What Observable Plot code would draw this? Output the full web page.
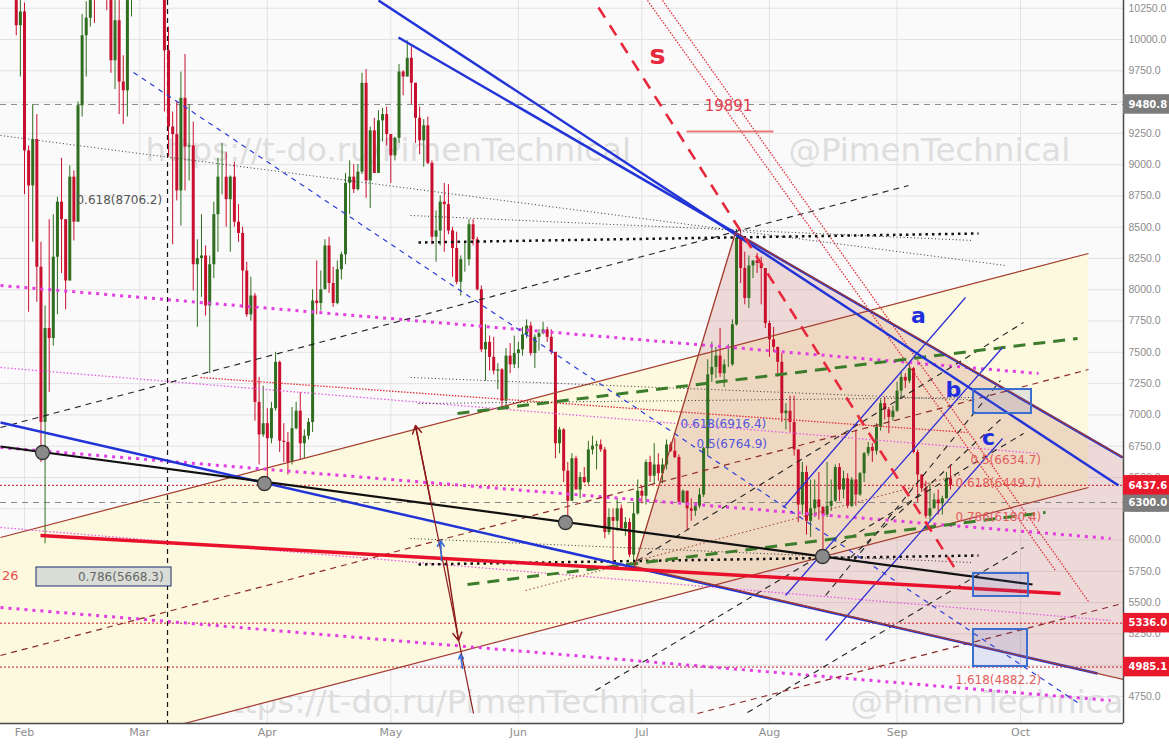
<!DOCTYPE html>
<html>
<head>
<meta charset="utf-8">
<script src="https://cdn.jsdelivr.net/npm/d3@7"></script>
<script src="https://cdn.jsdelivr.net/npm/@observablehq/plot@0.6"></script>
<style>
html,body{margin:0;padding:0;background:#ffffff;}
#chart{width:1169px;height:745px;overflow:hidden;}
</style>
</head>
<body>
<div id="chart"></div>
<script>
// ================= DATA =================
// Daily BTC/USD candles, 2018-01-26 .. 2018-09-14 (day-of-year 25 .. 256, Jan 1 = 0)
const firstCandleDay = 25;
const firstOpen = 11256;
const closes = [
11171,11440,11780,11270,10110,10220,
9110,8830,9200,8180,6940,7690,7610,8260,8700,8560,8070,8900,8540,9470,10030,10170,11060,10380,11150,11230,10470,9830,10150,9660,9590,10320,10570,10330,
10930,11030,11460,11510,11440,10720,9910,9300,9240,8790,9530,9140,9150,8200,8250,8270,7870,8200,8600,8900,8900,8720,8900,8540,8450,8150,7800,7950,7100,6840,6930,
6810,7050,7420,6790,6780,6620,6890,7030,6770,6830,6940,7910,7890,8000,8350,8050,7890,8160,8280,8850,8900,8800,8940,9650,8870,9270,8930,9350,9400,9240,
9070,9210,9740,9700,9850,9650,9370,9190,9310,9010,8420,8470,8700,8680,8470,8330,8060,8240,8240,8520,8400,8000,7520,7580,7460,7350,7360,7110,7470,7400,7490,
7520,7640,7710,7490,7620,7650,7680,7620,7500,6770,6880,6550,6310,6650,6400,6500,6460,6720,6750,6760,6720,6060,6180,6150,6250,6090,6140,5880,6210,6390,
6350,6620,6510,6600,6530,6600,6760,6710,6660,6300,6390,6250,6230,6270,6360,6730,7320,7380,7470,7330,7400,7400,7720,8410,8170,7930,8190,8230,8210,8170,7730,
7600,7540,7420,7010,7030,6940,6720,6280,6540,6150,6250,6320,6260,6200,6270,6310,6580,6400,6490,6270,6480,6360,6530,6690,6740,6710,6900,7090,7040,6980,7030,
7190,7300,7270,7370,6700,6520,6410,6190,6250,6320,6290,6330,6490,6437.6
];
const highs = [
11643,11620,12030,11870,11300,10380,
10290,9150,9480,9400,8380,7870,8560,8600,8740,9050,8560,8990,8950,9500,10200,10300,11100,11240,11270,11790,11300,10900,10430,10500,9870,10460,10880,11070,
11070,11190,11530,11510,11700,11440,10900,10100,9420,9500,9740,9880,9480,9340,8400,8600,8350,8270,8700,9050,9170,9100,8910,9020,8680,8500,8220,8100,7970,7300,7230,
7050,7100,7500,7430,6930,6860,7060,7100,7180,6880,6970,8000,8230,8150,8400,8420,8180,8230,8300,8930,9030,9000,9000,9730,9760,9300,9370,9430,9450,9460,
9240,9220,9800,9750,9990,9940,9650,9460,9360,9380,9030,8630,8750,8850,8840,8500,8460,8270,8380,8560,8560,8420,8030,7720,7630,7620,7410,7370,7530,7570,7630,
7580,7700,7760,7740,7640,7680,7740,7700,7680,7500,6900,6890,6620,6690,6670,6540,6580,6790,6830,6790,6800,6740,6250,6250,6330,6280,6180,6170,6300,6480,
6430,6640,6670,6770,6690,6650,6800,6780,6810,6680,6400,6390,6330,6290,6410,6740,7440,7580,7540,7690,7440,7560,7760,8480,8480,8300,8270,8230,8290,8260,8170,
7750,7700,7540,7490,7090,7150,7150,6720,6620,6590,6480,6480,6540,6270,6620,6480,6600,6610,6550,6530,6500,6880,6540,6700,6780,6770,6930,7120,7140,7060,7070,
7260,7340,7330,7410,7380,6720,6520,6470,6450,6370,6400,6350,6540,6600
];
const lows = [
10311,10930,11440,11170,10030,9700,
8760,7820,8380,7900,6620,5970,7180,7550,7800,8130,7840,8070,8390,8540,9380,9700,10100,10130,10380,11100,10230,9730,9600,9400,9320,9380,10180,10330,
10310,10800,11000,11080,11400,10590,9420,9060,8360,8710,8510,8790,8870,7990,7700,7940,7790,7330,8090,8300,8760,8500,8300,8500,8380,7850,7780,7750,6950,6600,6820,
6430,6770,7030,6700,6620,6520,6600,6880,6640,6650,6800,6860,7800,7830,8000,7970,7860,7880,8080,8200,8600,8770,8790,8920,8730,8650,8930,8930,9180,9150,
8850,9030,9170,9550,9700,9480,9170,9080,8980,9000,8360,8220,8350,8300,8440,8100,8040,7950,8140,8190,8350,7990,7500,7270,7350,7320,7200,7060,7060,7330,7370,
7370,7470,7610,7470,7370,7510,7640,7580,7480,6650,6690,6460,6120,6310,6400,6330,6450,6440,6680,6560,6700,6010,6040,5780,6070,6070,6030,5860,5790,6200,
6290,6280,6460,6450,6470,6450,6560,6700,6650,6290,6300,6080,6150,6190,6250,6340,6670,7260,7290,7300,7220,7380,7390,7710,8050,7880,7850,8090,8130,7880,7690,
7460,7500,7300,6940,6880,6860,6670,6140,6200,6040,6020,6180,6160,5880,6180,6230,6300,6310,6330,6250,6260,6270,6350,6460,6670,6620,6680,6870,6960,6850,6950,
7020,7130,7210,7250,6690,6300,6380,6170,6150,6250,6200,6200,6330,6400
];

// axis values (9500 and 5000 sit under the price tags)
const yTicks = [4750,5250,5500,5750,6000,6250,6500,6750,7000,7250,7500,7750,8000,8250,8500,8750,9000,9250,9750,10000,10250];
const monthStarts = ["2018-02-01","2018-03-01","2018-04-01","2018-05-01","2018-06-01","2018-07-01","2018-08-01","2018-09-01","2018-10-01"];
const viewDays = [25.17, 298.02];
const viewPrices = [4534.2, 10311.6];

// horizontal price levels and their axis tags
const grayLevels = [9480.8, 6300.0];
const redLevels = [6437.6, 5336.0, 4985.1];
const verticalMarkDays = [65.75];

// drawings: [day1, price1, day2, price2]  (day = day-of-year 2018)
const channelDays = [25.17, 289.52];
const channelLower = [4150.6, 6420.0];
const channelUpper = [6020.5, 8289.9];
const triangle = [[179.2, 5788.7], [203.75, 8457.7], [298.02, 6659.8], [298.02, 4885.8]];
const triangleEdges = [[179.2, 5788.7, 203.75, 8457.7], [203.75, 8457.7, 298.02, 6659.8], [179.2, 5788.7, 298.02, 4885.8]];
const channelLines = [[25.17, 6020.5, 289.52, 8289.9], [25.17, 4150.6, 289.52, 6420.0]];
const blueThick = [[117.01, 10311.6, 296.81, 6436.0], [121.87, 10016.0, 297.78, 6659.8], [25.17, 6939.4, 291.71, 4933.7]];
const blackThick = [[25.17, 6747.7, 275.92, 5644.9]];
const redThick = [[34.89, 6036.5, 282.72, 5573.0]];
const redDashed = [[170.47, 10255.7, 257.7, 5740.8]];
const redDotted = [[182.37, 10311.6, 281.5, 5756.8], [186.02, 10311.6, 289.52, 5509.0], [73.76, 7299.1, 260.12, 6859.5]];
const redShort = [[191.85, 9264.8, 212.99, 9264.8]];
const blackDashed = [[25.17, 6899.5, 245.79, 8833.3], [206.67, 4622.1, 273.73, 5940.6], [169.74, 4797.9, 273.73, 6851.5],
  [179.94, 5836.7, 273.73, 7738.5], [225.63, 5557.0, 268.14, 7275.1], [231.7, 5860.7, 268.14, 6963.4]];
const blackDottedThin = [[25.17, 9232.9, 269.36, 8194.0], [124.79, 8593.6, 261.58, 8393.8], [124.79, 7299.1, 261.34, 7119.2],
  [126.73, 7091.2, 261.34, 7139.2], [124.79, 6012.5, 261.34, 5820.7]];
const blackDottedThick = [[126.73, 8377.8, 262.79, 8449.7], [126.73, 5804.8, 262.79, 5876.6]];
const greenDashed = [[138.64, 5644.9, 279.08, 6220.2], [136.21, 7011.3, 286.85, 7610.7]];
const magentaThick = [[25.17, 8034.2, 277.38, 7331.0], [25.17, 6739.7, 294.87, 6012.5], [25.17, 5461.1, 294.87, 4717.9]];
const magentaThin = [[25.17, 7378.9, 277.38, 6691.7], [25.17, 6100.4, 294.87, 5357.2]];
const brownDashed = [[25.17, 5077.6, 289.52, 7363.0], [194.52, 4614.1, 297.78, 5493.0]];
const brownDotted = [[152.73, 5597.0, 258.42, 6523.9]];
const blueDashed = [[57.48, 9736.3, 286.85, 4702.0]];
const blueThin = [[215.42, 6260.2, 259.64, 7938.3], [215.9, 5557.0, 268.63, 7538.8], [225.63, 5197.4, 268.63, 6811.6]];
const brownArrowLine = [[126.0, 6915.4, 140.1, 4614.1]];
const brownArrows = [[129.65, 6316.1, 126.0, 6915.4], [133.5, 5836.7, 136.45, 5197.4]];
const blueArrows = [[132.32, 5836.7, 132.08, 5996.5], [137.42, 4973.7, 136.94, 5085.5]];
const pivots = [[35.37, 6699.7], [89.31, 6452.0], [162.45, 6140.3], [224.9, 5868.7]];
const blueBoxes = [[261.58, 7203.2, 275.67, 7011.3], [261.58, 5732.8, 274.95, 5549.0], [261.58, 5285.3, 274.7, 4989.6]];
const fibBox = [[33.92, 5780.8, 66.72, 5629.0]];

// labels: [day, price, text]
const fibBoxLabel = [[64.8, 5700.8, "0.786(5668.3)"]];
const grayFibLabel = [[43.63, 8713.4, "0.618(8706.2)"]];
const blueFibLabels = [[190.4, 6923.5, "0.618(6916.4)"], [194.3, 6763.6, "0.5(6764.9)"]];
const redFibLabels = [[260.85, 6635.8, "0.5(6634.7)"], [257.2, 6452.0, "0.618(6449.7)"], [257.2, 6180.3, "0.786(6180.4)"], [257.2, 4877.7, "1.618(4882.2)"]];
const waveLabels = [[248.2, 7794.5, "a"], [256.7, 7203.0, "b"], [265.2, 6819.6, "c"]];
const sLabel = [[184.8, 9872.0, "s"]];
const numLabel = [[202.05, 9464.6, "19891"]];
const edgeLabel = [[29.54, 5716.8, "26"]];
const watermarks = [[60.4, 9113, "https://t-do.ru/PimenTechnical"], [216.6, 9113, "@PimenTechnical"],
  [76.2, 4702, "https://t-do.ru/PimenTechnical"], [231.7, 4702, "@PimenTechnical"]];

// ================= BUILD =================
const DAY0 = Date.UTC(2018, 0, 1);
const day = t => new Date(DAY0 + t * 86400000);
const candles = closes.map((c, i) => ({
  date: day(firstCandleDay + i),
  open: i === 0 ? firstOpen : closes[i - 1],
  close: c, high: highs[i], low: lows[i]
}));
const candleColor = d => d.close >= d.open ? "#2f6e1f" : "#c8102e";

const seg = arr => arr.map(s => ({x1: day(s[0]), y1: s[1], x2: day(s[2]), y2: s[3]}));
const lbl = arr => arr.map(s => ({x: day(s[0]), y: s[1], text: s[2]}));
const links = (arr, o) => Plot.link(seg(arr), {x1: "x1", y1: "y1", x2: "x2", y2: "y2", clip: true, ...o});
const texts = (arr, o) => Plot.text(lbl(arr), {x: "x", y: "y", text: "text", fontFamily: "DejaVu Sans", ...o});
const rects = (arr, o) => Plot.rect(seg(arr), {x1: "x1", x2: "x2", y1: "y1", y2: "y2", ...o});

function polygonMark(points, attrs) {
  return (index, scales) => {
    const el = d3.create("svg:polygon")
      .attr("points", points.map(([t, p]) => `${scales.x(day(t))},${scales.y(p)}`).join(" "));
    for (const [k, v] of Object.entries(attrs)) el.attr(k, v);
    return el.node();
  };
}

const channelData = channelDays.map((t, i) => ({x: day(t), lo: channelLower[i], hi: channelUpper[i]}));
const tagRows = vals => vals.map(v => ({x1: day(viewDays[1]), x2: day(309.5), lo: v - 78, hi: v + 78, v}));
const tagRects = (vals, fill) => Plot.rect(tagRows(vals), {x1: "x1", x2: "x2", y1: "lo", y2: "hi", fill, clip: false});
const tagTexts = vals => Plot.text(tagRows(vals), {x: "x1", y: "v", text: d => d.v.toFixed(1), dx: 5, textAnchor: "start",
  fill: "#ffffff", fontWeight: "bold", fontSize: 10, fontFamily: "DejaVu Sans", clip: false});

const chart = Plot.plot({
  width: 1169, height: 745,
  marginLeft: 0, marginRight: 46, marginTop: 0, marginBottom: 22,
  style: {background: "#ffffff", fontFamily: "DejaVu Sans", overflow: "visible"},
  x: {type: "utc", domain: viewDays.map(day)},
  y: {domain: viewPrices},
  marks: [
    Plot.frame({fill: "#fafafa", stroke: null}),
    Plot.gridY([...yTicks, 9500, 5000], {stroke: "#e2e2e2", strokeOpacity: 1}),
    Plot.gridX(monthStarts.map(s => new Date(s)), {stroke: "#e2e2e2", strokeOpacity: 1}),
    texts(watermarks, {fill: "#dedede", fontSize: 32.5, textAnchor: "start", clip: true}),
    // rising channel fill
    Plot.areaY(channelData, {x: "x", y1: "lo", y2: "hi", fill: "#fcf9de", curve: "linear", clip: true}),
    // triangle fill
    polygonMark(triangle, {fill: "rgb(190,100,90)", "fill-opacity": 0.22}),
    // vertical marker and horizontal levels
    Plot.ruleX(verticalMarkDays.map(day), {stroke: "#111", strokeDasharray: "5,4", strokeWidth: 1.2}),
    Plot.ruleY(grayLevels, {stroke: "#888", strokeDasharray: "6,5", strokeWidth: 1}),
    Plot.ruleY(redLevels, {stroke: "#cc1020", strokeDasharray: "2,2", strokeWidth: 1}),
    // candles
    Plot.ruleX(candles, {x: "date", y1: "low", y2: "high", stroke: candleColor, strokeWidth: 1, clip: true}),
    Plot.ruleX(candles, {x: "date", y1: "open", y2: "close", stroke: candleColor, strokeWidth: 3, clip: true}),
    // drawings
    links(channelLines, {stroke: "#a33a2e", strokeWidth: 1.2}),
    links(magentaThin, {stroke: "#e45be4", strokeWidth: 1.3, strokeDasharray: "1.5,2"}),
    links(magentaThick, {stroke: "#e33ee3", strokeWidth: 3, strokeDasharray: "3,5"}),
    links(redDotted, {stroke: "#e0303a", strokeWidth: 1.3, strokeDasharray: "1.5,1.5"}),
    links(brownDashed, {stroke: "#8e2a2a", strokeWidth: 1.2, strokeDasharray: "6,5"}),
    links(brownDotted, {stroke: "#9a3a2a", strokeWidth: 1, strokeDasharray: "1.5,2.5"}),
    links(blackDashed, {stroke: "#222", strokeWidth: 1.1, strokeDasharray: "6,5"}),
    links(blackDottedThin, {stroke: "#333", strokeWidth: 1, strokeDasharray: "1,2.5"}),
    links(blackDottedThick, {stroke: "#111", strokeWidth: 2.5, strokeDasharray: "2.5,4"}),
    links(greenDashed, {stroke: "#3b7d2b", strokeWidth: 3, strokeDasharray: "12,8"}),
    links(blueDashed, {stroke: "#2b3bd8", strokeWidth: 1.2, strokeDasharray: "5,5"}),
    links(blueThin, {stroke: "#2a2ad6", strokeWidth: 1.2}),
    links(blueThick, {stroke: "#2234d6", strokeWidth: 2.5}),
    links(triangleEdges, {stroke: "#a33a2e", strokeWidth: 1.3}),
    links(blackThick, {stroke: "#111", strokeWidth: 2.2}),
    links(redThick, {stroke: "#e8102a", strokeWidth: 3.5}),
    links(redDashed, {stroke: "#e8283c", strokeWidth: 2.6, strokeDasharray: "12,9"}),
    links(redShort, {stroke: "#e87878", strokeWidth: 2}),
    links(brownArrowLine, {stroke: "#8b1a1a", strokeWidth: 1.2}),
    Plot.arrow(seg(brownArrows), {x1: "x1", y1: "y1", x2: "x2", y2: "y2", stroke: "#8b1a1a", strokeWidth: 1.5, headLength: 9, clip: true}),
    Plot.arrow(seg(blueArrows), {x1: "x1", y1: "y1", x2: "x2", y2: "y2", stroke: "#3a6ad8", strokeWidth: 1.6, headLength: 8, clip: true}),
    Plot.dot(pivots.map(p => ({x: day(p[0]), y: p[1]})), {x: "x", y: "y", r: 7, fill: "#8a8a8a", stroke: "#333", strokeWidth: 1.3}),
    rects(blueBoxes, {fill: "rgb(90,110,200)", fillOpacity: 0.15, stroke: "#3a6fd0", strokeWidth: 2}),
    rects(fibBox, {fill: "#d9ddd6", stroke: "#1f2d6b", strokeWidth: 1}),
    // labels
    texts(fibBoxLabel, {fill: "#666", fontSize: 12, textAnchor: "end"}),
    texts(grayFibLabel, {fill: "#555", fontSize: 12, textAnchor: "start"}),
    texts(blueFibLabels, {fill: "#5555dd", fontSize: 12, textAnchor: "start"}),
    texts(redFibLabels, {fill: "#e35d5d", fontSize: 12, textAnchor: "start"}),
    texts(waveLabels, {fill: "#1f2fe0", fontSize: 22, fontWeight: "bold", textAnchor: "middle"}),
    texts(sLabel, {fill: "#e8283c", fontSize: 27, fontWeight: "bold", textAnchor: "middle"}),
    texts(numLabel, {fill: "#e0404c", fontSize: 15, textAnchor: "middle"}),
    texts(edgeLabel, {fill: "#e05050", fontSize: 13, textAnchor: "end"}),
    // axes
    Plot.axisY(yTicks, {anchor: "right", tickFormat: d => d.toFixed(1), tickSize: 0, tickPadding: 5, color: "#8c8c8c", fontSize: 10.5, fontFamily: "Liberation Sans"}),
    Plot.axisX(monthStarts.map(s => new Date(s)), {anchor: "bottom", tickFormat: d3.utcFormat("%b"), tickSize: 0, tickPadding: 5, color: "#8c8c8c", fontSize: 11, fontFamily: "DejaVu Sans"}),
    Plot.ruleY([viewPrices[0]], {stroke: "#4a4a4a", strokeWidth: 1.5}),
    Plot.ruleX([day(viewDays[1])], {stroke: "#4a4a4a", strokeWidth: 1.5}),
    tagRects(grayLevels, "#7c7c7c"),
    tagRects(redLevels, "#e8192c"),
    tagTexts(grayLevels),
    tagTexts(redLevels)
  ]
});
document.getElementById("chart").appendChild(chart);
</script>
</body>
</html>
